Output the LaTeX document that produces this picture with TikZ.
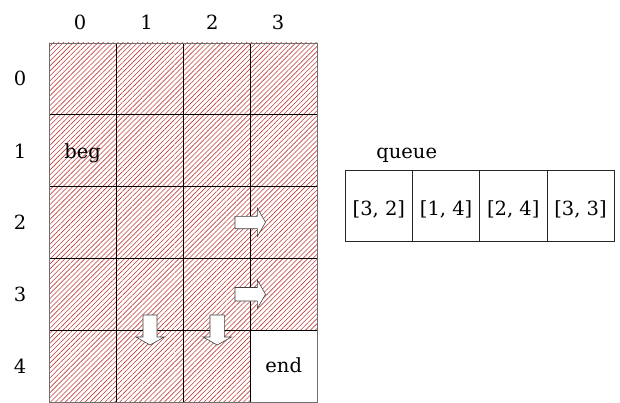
\documentclass[tikz,border=0pt]{standalone}
\usepackage{fontspec}
\setmainfont{DejaVu Serif}
\usetikzlibrary{patterns.meta}
\definecolor{hatch}{RGB}{190,62,58}
\definecolor{frame}{RGB}{110,110,110}
\begin{document}
\begin{tikzpicture}[x=1pt,y=-1pt,
  lbl/.style={font=\fontsize{19.5}{22}\selectfont, anchor=base, inner sep=0pt},
  hatched/.style={pattern={Lines[angle=45,distance=3.5pt,line width=0.6pt]}, pattern color=hatch},
  cellbox/.style={minimum width=67.2pt, minimum height=71.8pt, inner sep=0pt, anchor=north west, outer sep=0pt},
  qbox/.style={draw=black!85, line width=0.8pt, minimum width=67.2pt, minimum height=71pt, inner sep=0pt, anchor=north west, outer sep=0pt},
  flow/.style={draw=black!75, fill=white, line width=0.6pt, line join=miter},
  gridline/.style={draw=black, line width=0.8pt}]
\useasboundingbox (0,0) rectangle (620,403);
% cells
\foreach \r in {0,...,4}{
  \foreach \c in {0,...,3}{
    \pgfmathsetmacro{\xx}{49+67.2*\c}
    \pgfmathsetmacro{\yy}{43+71.8*\r}
    \ifnum\r=4 \ifnum\c=3
      \node[cellbox] (c\r\c) at (\xx,\yy) {};
    \else
      \node[cellbox,hatched] (c\r\c) at (\xx,\yy) {};
    \fi\else
      \node[cellbox,hatched] (c\r\c) at (\xx,\yy) {};
    \fi
  }
}
% grid lines
\foreach \c in {1,2,3}{
  \draw[gridline] (c0\c.north west) -- (c4\c.south west);
}
\foreach \r in {1,2,3,4}{
  \draw[gridline] (c\r0.north west) -- (c\r3.north east);
}
\draw[draw=frame, line width=0.9pt] (c00.north west) rectangle (c43.south east);
% arrows
\draw[flow] (235,216.3) -- (257.3,216.3) -- (257.3,208) -- (265.5,222.3) -- (257.3,236.5) -- (257.3,228.7) -- (235,228.7) -- cycle;
\draw[flow] (235,287.5) -- (257.3,287.5) -- (257.3,280) -- (265.5,294.3) -- (257.3,308.5) -- (257.3,301) -- (235,301) -- cycle;
\draw[flow] (143,315) -- (157,315) -- (157,337) -- (164.3,337) -- (150,345) -- (136,337) -- (143,337) -- cycle;
\draw[flow] (210,315) -- (224.3,315) -- (224.3,337) -- (231.5,337) -- (217.2,345) -- (203,337) -- (210,337) -- cycle;
% column labels
\node[lbl] (h0) at (80,29.3) {0};
\node[lbl] (h1) at (146.7,29.3) {1};
\node[lbl] (h2) at (212.2,29.3) {2};
\node[lbl] (h3) at (278,29.3) {3};
% row labels
\node[lbl] (v0) at (20,86) {0};
\node[lbl] (v1) at (20,158.3) {1};
\node[lbl] (v2) at (20,229.8) {2};
\node[lbl] (v3) at (20,301.6) {3};
\node[lbl] (v4) at (20,373.4) {4};
% cell texts
\node[lbl] (beg) at (82.7,158.3) {beg};
\node[lbl] (end) at (283.7,372.7) {end};
% queue
\node[lbl] (qt) at (406.7,158.3) {queue};
\node[qbox] (q1) at (345.3,170.7) {};
\node[qbox] (q2) at (q1.north east) {};
\node[qbox] (q3) at (q2.north east) {};
\node[qbox] (q4) at (q3.north east) {};
\node[lbl] (t1) at ([yshift=-8.8pt]q1.center) {[3, 2]};
\node[lbl] (t2) at ([yshift=-8.8pt]q2.center) {[1, 4]};
\node[lbl] (t3) at ([yshift=-8.8pt]q3.center) {[2, 4]};
\node[lbl] (t4) at ([yshift=-8.8pt]q4.center) {[3, 3]};
\end{tikzpicture}
\end{document}
